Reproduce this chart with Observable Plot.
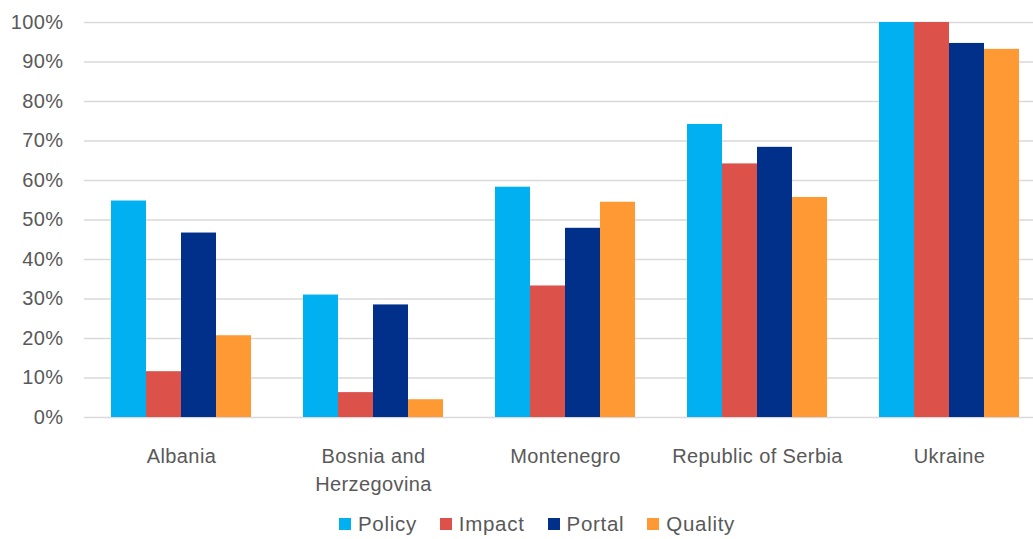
<!DOCTYPE html>
<html>
<head>
<meta charset="utf-8">
<script src="https://cdn.jsdelivr.net/npm/d3@7"></script>
<script src="https://cdn.jsdelivr.net/npm/@observablehq/plot@0.6"></script>
<style>
  html, body { margin: 0; padding: 0; background: #fff; overflow: hidden; width: 1033px; height: 539px; }
  #chart { width: 1048px; height: 510px; }
  #legend { width: 1033px; padding-left: 64px; box-sizing: border-box; margin-top: -2px; }
  #legend .lg-swatches { justify-content: center; font-family: "Liberation Sans", Arial, sans-serif !important; font-size: 20.5px !important; line-height: 24px; color: #595959 !important; margin-left: 0 !important; min-height: 24px !important; padding-top: 4px; letter-spacing: 0.7px; }
  #legend .lg-swatch { margin-right: 23px !important; }
  #legend .lg-swatch > svg { margin-right: 7px !important; }
</style>
</head>
<body>
<div id="chart"></div>
<div id="legend"></div>
<script>
// ---- data ----
const countries = ["Albania", "Bosnia and Herzegovina", "Montenegro", "Republic of Serbia", "Ukraine"];
const countryLabels = ["Albania", "Bosnia and\nHerzegovina", "Montenegro", "Republic of Serbia", "Ukraine"];
const series = ["Policy", "Impact", "Portal", "Quality"];
const seriesColors = ["#00b0f0", "#dc524b", "#00308a", "#ff9933"];
const policy  = [0.548, 0.310, 0.583, 0.742, 1.000];
const impact  = [0.116, 0.063, 0.333, 0.642, 1.000];
const portal  = [0.467, 0.285, 0.479, 0.684, 0.947];
const quality = [0.207, 0.045, 0.545, 0.557, 0.932];
const yTicks = [0, 0.1, 0.2, 0.3, 0.4, 0.5, 0.6, 0.7, 0.8, 0.9, 1.0];

const valuesBySeries = [policy, impact, portal, quality];
const rows = [];
series.forEach((s, si) => countries.forEach((c, ci) => rows.push({country: c, series: s, value: valuesBySeries[si][ci]})));

// ---- layout ----
const W = 1048, H = 510, mL = 84, mR = 2, mT = 22, mB = 93;
const padIn = 0.2724, padOut = padIn / 2;
const step = (W - mL - mR) / (countries.length - padIn + 2 * padOut);
const bandW = step * (1 - padIn);
const barW = bandW / series.length;

const font = "'Liberation Sans', Arial, sans-serif";

const barMarks = series.map((s, si) =>
  Plot.barY(rows.filter(d => d.series === s), {
    x: "country", y: "value", fill: "series",
    insetLeft: si * barW, insetRight: (series.length - 1 - si) * barW
  })
);

const chart = Plot.plot({
  width: W, height: H,
  marginLeft: mL, marginRight: mR, marginTop: mT, marginBottom: mB,
  style: { fontFamily: font, fontSize: "20px", color: "#595959", background: "#fff", overflow: "visible", letterSpacing: "0.4px" },
  x: { domain: countries, paddingInner: padIn, paddingOuter: padOut, label: null },
  y: { domain: [0, 1], label: null },
  color: { domain: series, range: seriesColors },
  marks: [
    Plot.gridY(yTicks, { stroke: "#d9d9d9", strokeOpacity: 1, strokeWidth: 1.6 }),
    ...barMarks,
    Plot.axisY(yTicks, { tickSize: 0, tickPadding: 21, tickFormat: d3.format(".0%"), label: null, fill: "#595959" }),
    Plot.axisX({ tickSize: 0, tickPadding: 25, tickFormat: d => countryLabels[countries.indexOf(d)], lineHeight: 1.42, label: null, fill: "#595959" })
  ]
});
document.getElementById("chart").appendChild(chart);

const legend = Plot.legend({
  color: { domain: series, range: seriesColors },
  className: "lg",
  swatchSize: 12
});
document.getElementById("legend").appendChild(legend);
</script>
</body>
</html>
